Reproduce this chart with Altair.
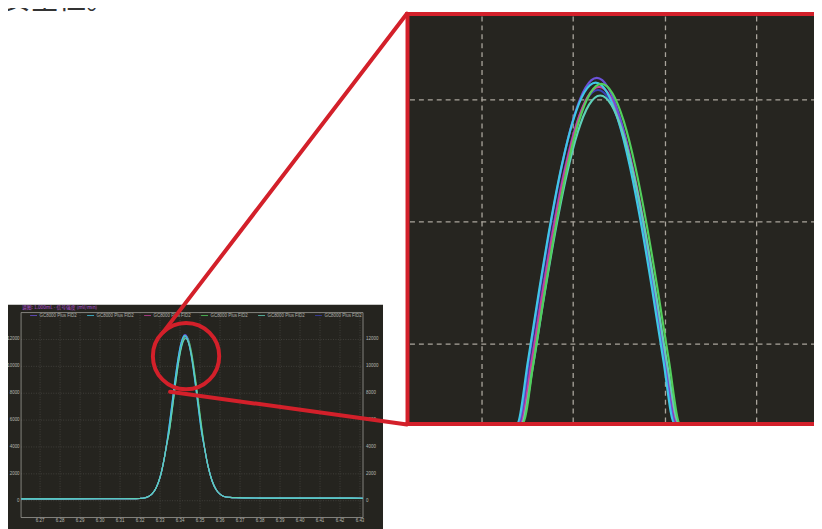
import altair as alt
import pandas as pd

# ---------------- data ----------------
series_ids = ["S1", "S2", "S3", "S4", "S5", "S6"]
series_labels = ["GC8000 Plus FID2"] * 6
series_colors = ["#6b52d9", "#3fc7e6", "#c8409c", "#52cf5c", "#5fcfb8", "#3a40b3"]
draw_order = ["S6", "S3", "S1", "S2", "S5", "S4"]
main_draw_order = ["S6", "S3", "S4", "S1", "S2", "S5"]

# shared baseline / flank points (retention time in min, signal)
left_flank_t = [6.2605, 6.2800, 6.3000, 6.3100, 6.3150, 6.3180, 6.3200, 6.3220,
                6.3240, 6.3260, 6.3280, 6.3300, 6.3310, 6.3320, 6.3330]
left_flank_i = [140, 142, 145, 148, 150, 155, 167, 202, 292, 503, 941, 1747, 2333, 3055, 3919]
right_flank_t = [6.3525, 6.3540, 6.3560, 6.3580, 6.3600, 6.3620, 6.3650, 6.3680,
                 6.3720, 6.3800, 6.3900, 6.4000, 6.4100, 6.4200, 6.4315]
right_flank_i = [3720, 2570, 1490, 840, 490, 316, 250, 225, 210, 200, 195, 192, 190, 188, 186]

# peak-top points of each run
s1_top_t = [6.3345, 6.3355, 6.3365, 6.3375, 6.3385, 6.3395, 6.3405, 6.3415, 6.3425,
            6.3435, 6.3445, 6.3455, 6.3465, 6.3475, 6.3485, 6.3495, 6.3505]
s1_top_i = [5461, 6605, 7795, 8970, 10066, 11011, 11741, 12202, 12360,
            12202, 11741, 11011, 10066, 8970, 7795, 6605, 5461]
s2_top_t = [6.3344, 6.3354, 6.3364, 6.3374, 6.3384, 6.3394, 6.3404, 6.3414, 6.3424,
            6.3434, 6.3444, 6.3454, 6.3464, 6.3474, 6.3484, 6.3494, 6.3504]
s2_top_i = [5426, 6563, 7745, 8912, 10001, 10940, 11665, 12123, 12280,
            12123, 11665, 10940, 10001, 8912, 7745, 6563, 5426]
s3_top_t = [6.3347, 6.3357, 6.3367, 6.3377, 6.3387, 6.3397, 6.3407, 6.3417, 6.3427,
            6.3437, 6.3447, 6.3457, 6.3467, 6.3477, 6.3487, 6.3497, 6.3507]
s3_top_i = [5396, 6526, 7701, 8862, 9944, 10878, 11599, 12054, 12210,
            12054, 11599, 10878, 9944, 8862, 7701, 6526, 5396]
s4_top_t = [6.3349, 6.3359, 6.3369, 6.3379, 6.3389, 6.3399, 6.3409, 6.3419, 6.3429,
            6.3439, 6.3449, 6.3459, 6.3469, 6.3479, 6.3489, 6.3499, 6.3509]
s4_top_i = [5418, 6552, 7732, 8898, 9985, 10922, 11646, 12104, 12260,
            12104, 11646, 10922, 9985, 8898, 7732, 6552, 5418]
s5_top_t = [6.3348, 6.3358, 6.3368, 6.3378, 6.3388, 6.3398, 6.3408, 6.3418, 6.3428,
            6.3438, 6.3448, 6.3458, 6.3468, 6.3478, 6.3488, 6.3498, 6.3508]
s5_top_i = [5335, 6452, 7613, 8761, 9831, 10753, 11466, 11916, 12070,
            11916, 11466, 10753, 9831, 8761, 7613, 6452, 5335]
s6_top_t = [6.3346, 6.3356, 6.3366, 6.3376, 6.3386, 6.3396, 6.3406, 6.3416, 6.3426,
            6.3436, 6.3446, 6.3456, 6.3466, 6.3476, 6.3486, 6.3496, 6.3506]
s6_top_i = [5374, 6499, 7670, 8826, 9904, 10833, 11551, 12005, 12160,
            12005, 11551, 10833, 9904, 8826, 7670, 6499, 5374]

main_x_ticks = [6.27, 6.28, 6.29, 6.30, 6.31, 6.32, 6.33, 6.34, 6.35,
                6.36, 6.37, 6.38, 6.39, 6.40, 6.41, 6.42, 6.43]
main_y_ticks = [0, 2000, 4000, 6000, 8000, 10000, 12000]
zoom_x_grid = [6.3323, 6.3404, 6.3486, 6.3567]
zoom_y_grid = [8000, 10000, 12000]

title_text = "谱图: 1.000mL - 信号强度 (mV/min)"
caption_text = "安全性。"

# ---------------- layout ----------------
# the page is a little wider than the window and is shown squeezed to 822/830 horizontally
S = 822.0 / 830.0
OX, OY = 8, 8


def px(v):
    return v / S - OX


def py(v):
    return v - OY


RED = "#d3202a"
FONT = "Liberation Sans"
CJK = "Noto Sans CJK SC"

main_x = alt.Scale(domain=[6.2605, 6.4315], range=[px(21), px(363)], nice=False, zero=False)
main_y = alt.Scale(domain=[-1250, 14000], range=[py(520), py(313)], nice=False, zero=False)
zoom_x = alt.Scale(domain=[6.3259, 6.3625], range=[px(410), px(822)], nice=False, zero=False, clamp=True)
zoom_y = alt.Scale(domain=[6700, 13380], range=[py(425), py(13)], nice=False, zero=False, clamp=True)

one = pd.DataFrame({"k": [0]})


def rect_layer(x1, y1, x2, y2, **mk):
    return alt.Chart(one).mark_rect(**mk).encode(
        x=alt.value(px(x1)), x2=alt.value(px(x2)),
        y=alt.value(py(y1)), y2=alt.value(py(y2)))


def seg_layer(x1, y1, x2, y2, **mk):
    return alt.Chart(one).mark_rule(**mk).encode(
        x=alt.value(px(x1)), y=alt.value(py(y1)),
        x2=alt.value(px(x2)), y2=alt.value(py(y2)))


tops = {
    "S1": (s1_top_t, s1_top_i), "S2": (s2_top_t, s2_top_i), "S3": (s3_top_t, s3_top_i),
    "S4": (s4_top_t, s4_top_i), "S5": (s5_top_t, s5_top_i), "S6": (s6_top_t, s6_top_i),
}
color_of = dict(zip(series_ids, series_colors))
frames = {}
for sid in series_ids:
    tt, ii = tops[sid]
    frames[sid] = pd.DataFrame({
        "t": left_flank_t + tt + right_flank_t,
        "I": left_flank_i + ii + right_flank_i,
    })

layers = []

# main chromatogram panel
layers.append(rect_layer(6, 305, 383, 545, color="#25241f"))
layers.append(alt.Chart(pd.DataFrame({"v": main_x_ticks})).mark_rule(
    color="#4e4d48", strokeWidth=0.7, strokeDash=[1, 1.5]).encode(
    x=alt.X("v:Q", scale=main_x, axis=None), y=alt.value(py(313)), y2=alt.value(py(520))))
layers.append(alt.Chart(pd.DataFrame({"v": main_y_ticks})).mark_rule(
    color="#4e4d48", strokeWidth=0.7, strokeDash=[1, 1.5]).encode(
    y=alt.Y("v:Q", scale=main_y, axis=None), x=alt.value(px(21)), x2=alt.value(px(363))))
layers.append(rect_layer(21, 313, 363, 520, fill="#000000", fillOpacity=0,
                         stroke="#9c9b96", strokeWidth=0.8))

for sid in main_draw_order:
    layers.append(alt.Chart(frames[sid]).mark_line(
        interpolate="monotone", strokeWidth=1.2, color=color_of[sid]).encode(
        x=alt.X("t:Q", scale=main_x, axis=None),
        y=alt.Y("I:Q", scale=main_y, axis=None)))

layers.append(alt.Chart(pd.DataFrame({"v": main_x_ticks})).mark_text(
    fontSize=4.5, font=FONT, color="#b8b8b2", baseline="middle").encode(
    x=alt.X("v:Q", scale=main_x, axis=None), y=alt.value(py(523.5)),
    text=alt.Text("v:Q", format=".2f")))
layers.append(alt.Chart(pd.DataFrame({"v": main_y_ticks})).mark_text(
    fontSize=4.5, font=FONT, color="#b8b8b2", baseline="middle", align="right").encode(
    y=alt.Y("v:Q", scale=main_y, axis=None), x=alt.value(px(19.5)),
    text=alt.Text("v:Q", format="d")))
layers.append(alt.Chart(pd.DataFrame({"v": main_y_ticks})).mark_text(
    fontSize=4.5, font=FONT, color="#b8b8b2", baseline="middle", align="left").encode(
    y=alt.Y("v:Q", scale=main_y, axis=None), x=alt.value(px(366)),
    text=alt.Text("v:Q", format="d")))

legend_df = pd.DataFrame({"sid": series_ids, "label": series_labels})
legend_x = alt.Scale(type="point", domain=series_ids, range=[px(33.5), px(318.5)], padding=0)
legend_c = alt.Scale(domain=series_ids, range=series_colors)
layers.append(alt.Chart(legend_df).mark_point(
    shape="stroke", size=49, strokeWidth=1, opacity=0.8, filled=False).encode(
    x=alt.X("sid:N", scale=legend_x, axis=None), y=alt.value(py(316)),
    color=alt.Color("sid:N", scale=legend_c, legend=None)))
layers.append(alt.Chart(legend_df).mark_text(
    fontSize=4.5, font=FONT, color="#b0b0aa", align="left", baseline="middle", dx=6).encode(
    x=alt.X("sid:N", scale=legend_x, axis=None), y=alt.value(py(316)), text="label:N"))
layers.append(alt.Chart(one).mark_text(
    text=title_text, fontSize=4.8, font=CJK, color="#b452d6", align="left", baseline="middle").encode(
    x=alt.value(px(22)), y=alt.value(py(308))))

# zoom panel
layers.append(rect_layer(409, 13, 840, 424, color="#262520"))
layers.append(alt.Chart(pd.DataFrame({"v": zoom_x_grid})).mark_rule(
    color="#aaa59c", strokeWidth=1.3, strokeDash=[5, 4]).encode(
    x=alt.X("v:Q", scale=zoom_x, axis=None), y=alt.value(py(14)), y2=alt.value(py(424))))
layers.append(alt.Chart(pd.DataFrame({"v": zoom_y_grid})).mark_rule(
    color="#aaa59c", strokeWidth=1.3, strokeDash=[5, 4]).encode(
    y=alt.Y("v:Q", scale=zoom_y, axis=None), x=alt.value(px(410)), x2=alt.value(px(840))))
for sid in draw_order:
    layers.append(alt.Chart(frames[sid]).transform_filter("datum.I >= 5000").mark_line(
        interpolate="monotone", strokeWidth=2.2, color=color_of[sid]).encode(
        x=alt.X("t:Q", scale=zoom_x, axis=None),
        y=alt.Y("I:Q", scale=zoom_y, axis=None)))

# red magnifier decoration
layers.append(seg_layer(405.5, 11.5, 840, 11.5, color=RED, strokeWidth=4))
layers.append(seg_layer(405.5, 425.5, 840, 425.5, color=RED, strokeWidth=4))
layers.append(seg_layer(407.5, 9.5, 407.5, 427.5, color=RED, strokeWidth=4))
layers.append(alt.Chart(one).mark_point(
    shape="circle", size=67 * 67, filled=False, stroke=RED, strokeWidth=4, opacity=1).encode(
    x=alt.value(px(186)), y=alt.value(py(357))))
layers.append(seg_layer(163, 333, 407, 11, color=RED, strokeWidth=4, strokeCap="round"))
layers.append(seg_layer(170, 393, 407, 426, color=RED, strokeWidth=4, strokeCap="round"))

layers.append(alt.Chart(one).mark_text(
    text=caption_text, fontSize=28, font=CJK, color="#333333", align="left",
    baseline="alphabetic").encode(x=alt.value(px(3)), y=alt.value(py(6))))

chart = alt.layer(*layers).resolve_scale(
    x="independent", y="independent", color="independent"
).properties(
    width=814, height=521, padding=0, autosize="none", background="white"
).configure_view(stroke=None)

chart.save("out.html", embed_options={"renderer": "svg", "actions": False})
